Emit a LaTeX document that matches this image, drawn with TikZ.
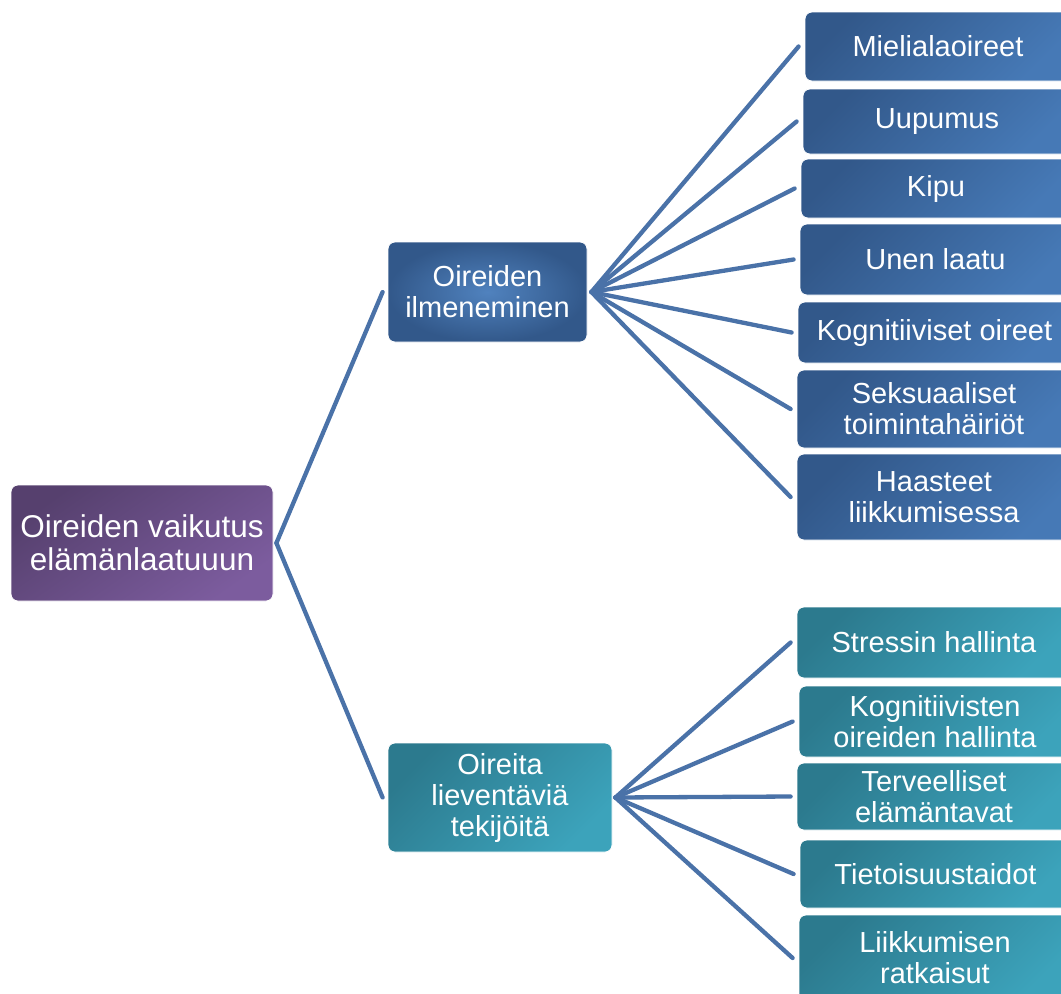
\documentclass[tikz,border=0pt]{standalone}
\usepackage{fontspec}
\setmainfont{Liberation Sans}
\definecolor{bluedark}{RGB}{50,88,138}
\definecolor{bluelight}{RGB}{70,121,182}
\definecolor{bluecenter}{RGB}{80,130,190}
\definecolor{tealdark}{RGB}{44,122,142}
\definecolor{teallight}{RGB}{60,163,187}
\definecolor{purpdark}{RGB}{86,64,110}
\definecolor{purplight}{RGB}{124,92,158}
\definecolor{linec}{RGB}{74,114,168}
\begin{document}
\begin{tikzpicture}[x=1pt,y=-1pt,
  box/.style={rounded corners=7pt, text=white, align=center, inner sep=0pt,
    draw=white, line width=0.8pt, font=\fontsize{29}{31}\selectfont},
  bluebox/.style={box, top color=bluedark, bottom color=bluelight, shading angle=45},
  bluemid/.style={box, inner color=bluecenter, outer color=bluedark},
  tealbox/.style={box, top color=tealdark, bottom color=teallight, shading angle=45},
  purpbox/.style={box, top color=purpdark, bottom color=purplight, shading angle=35},
  conn/.style={draw=linec, line width=4.3pt, line cap=round}]
\useasboundingbox (0,0) rectangle (1061,994);
\clip (0,0) rectangle (1061,994);

% root and level 1
\node[purpbox, minimum width=262pt, minimum height=116pt,
  font=\fontsize{31.5}{33}\selectfont] (root) at (142,543) {Oireiden vaikutus\\elämänlaatuuun};
\node[bluemid, minimum width=199pt, minimum height=100pt] (b1) at (487.5,292) {Oireiden\\ilmeneminen};
\node[tealbox, minimum width=224pt, minimum height=109pt] (b2) at (500,797.5) {Oireita\\lieventäviä\\tekijöitä};

% top group
\node[bluebox, minimum width=266pt, minimum height=69pt] (r1) at (938,46.5) {Mielialaoireet};
\node[bluebox, minimum width=268pt, minimum height=65pt] (r2) at (937,121.5) {Uupumus};
\node[bluebox, minimum width=270pt, minimum height=59pt] (r3) at (936,188.5) {Kipu};
\node[bluebox, minimum width=271pt, minimum height=71pt] (r4) at (935.5,259.5) {Unen laatu};
\node[bluebox, minimum width=273pt, minimum height=61pt] (r5) at (934.5,332.5) {Kognitiiviset oireet};
\node[bluebox, minimum width=274pt, minimum height=78pt] (r6) at (934,409) {Seksuaaliset\\toimintahäiriöt};
\node[bluebox, minimum width=274pt, minimum height=86pt] (r7) at (934,497) {Haasteet\\liikkumisessa};

% bottom group
\node[tealbox, minimum width=274pt, minimum height=71pt] (s1) at (934,642.5) {Stressin hallinta};
\node[tealbox, minimum width=272pt, minimum height=71pt] (s2) at (935,721.5) {Kognitiivisten\\oireiden hallinta};
\node[tealbox, minimum width=274pt, minimum height=67pt] (s3) at (934,796.5) {Terveelliset\\elämäntavat};
\node[tealbox, minimum width=271pt, minimum height=68pt] (s4) at (935.5,874) {Tietoisuustaidot};
\node[tealbox, minimum width=272pt, minimum height=86pt] (s5) at (935,958) {Liikkumisen\\ratkaisut};

% junctions
\coordinate (j0) at ([xshift=3pt]root.east);
\coordinate (j1) at ([xshift=4pt]b1.east);
\coordinate (j2) at ([xshift=3pt]b2.east);

\draw[conn] (j0) -- ([xshift=-5pt]b1.west);
\draw[conn] (j0) -- ([xshift=-5pt]b2.west);

\foreach \n in {r1,r2,r3,r4,r5,r6,r7}
  \draw[conn] (j1) -- ([xshift=-6pt]\n.west);
\foreach \n in {s1,s2,s3,s4,s5}
  \draw[conn] (j2) -- ([xshift=-6pt]\n.west);
\end{tikzpicture}
\end{document}
